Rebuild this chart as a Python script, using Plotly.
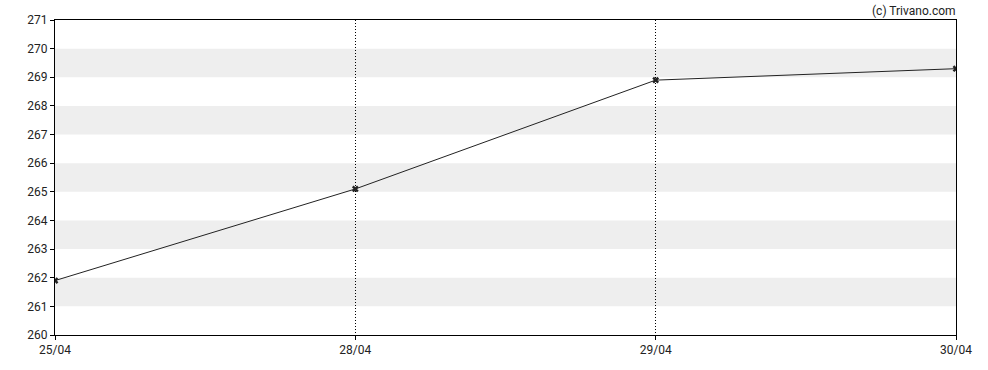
import plotly.graph_objects as go

dates = ["25/04", "28/04", "29/04", "30/04"]
values = [261.9, 265.1, 268.9, 269.3]
y_ticks = list(range(260, 272))
band_starts = [261, 263, 265, 267, 269]

xs = list(range(len(dates)))

fig = go.Figure()
fig.add_trace(go.Scatter(
    x=xs, y=values, mode="lines+markers",
    line=dict(color="#222222", width=1),
    marker=dict(symbol="x", size=6, color="#222222"),
    hoverinfo="skip", showlegend=False,
))

shapes = []
for b in band_starts:
    shapes.append(dict(type="rect", xref="paper", yref="y", x0=0, x1=1, y0=b, y1=b + 1,
                       fillcolor="#EEEEEE", line=dict(width=0), layer="below"))

fig.update_layout(
    width=988, height=370,
    margin=dict(l=55, r=32, t=20, b=35),
    paper_bgcolor="white", plot_bgcolor="white",
    font=dict(family="Roboto, Arial, sans-serif", size=12, color="#222222"),
    shapes=shapes,
    xaxis=dict(
        range=[0, 3], tickvals=xs, ticktext=dates,
        showgrid=True, gridcolor="#000000", griddash="1px,2px", gridwidth=1,
        showline=True, linecolor="#000000", linewidth=1, mirror=True,
        ticks="outside", ticklen=4, tickcolor="#000000",
        zeroline=False, fixedrange=True,
    ),
    yaxis=dict(
        range=[260, 271], tickvals=y_ticks,
        showgrid=False,
        showline=True, linecolor="#000000", linewidth=1, mirror=True,
        ticks="outside", ticklen=4, tickcolor="#000000",
        zeroline=False, fixedrange=True,
    ),
    annotations=[dict(text="(c) Trivano.com", xref="paper", yref="paper",
                      x=1.002, y=1, xanchor="right", yanchor="bottom",
                      showarrow=False, font=dict(size=12, color="#222222"), yshift=0)],
)

fig.write_html("out.html")
